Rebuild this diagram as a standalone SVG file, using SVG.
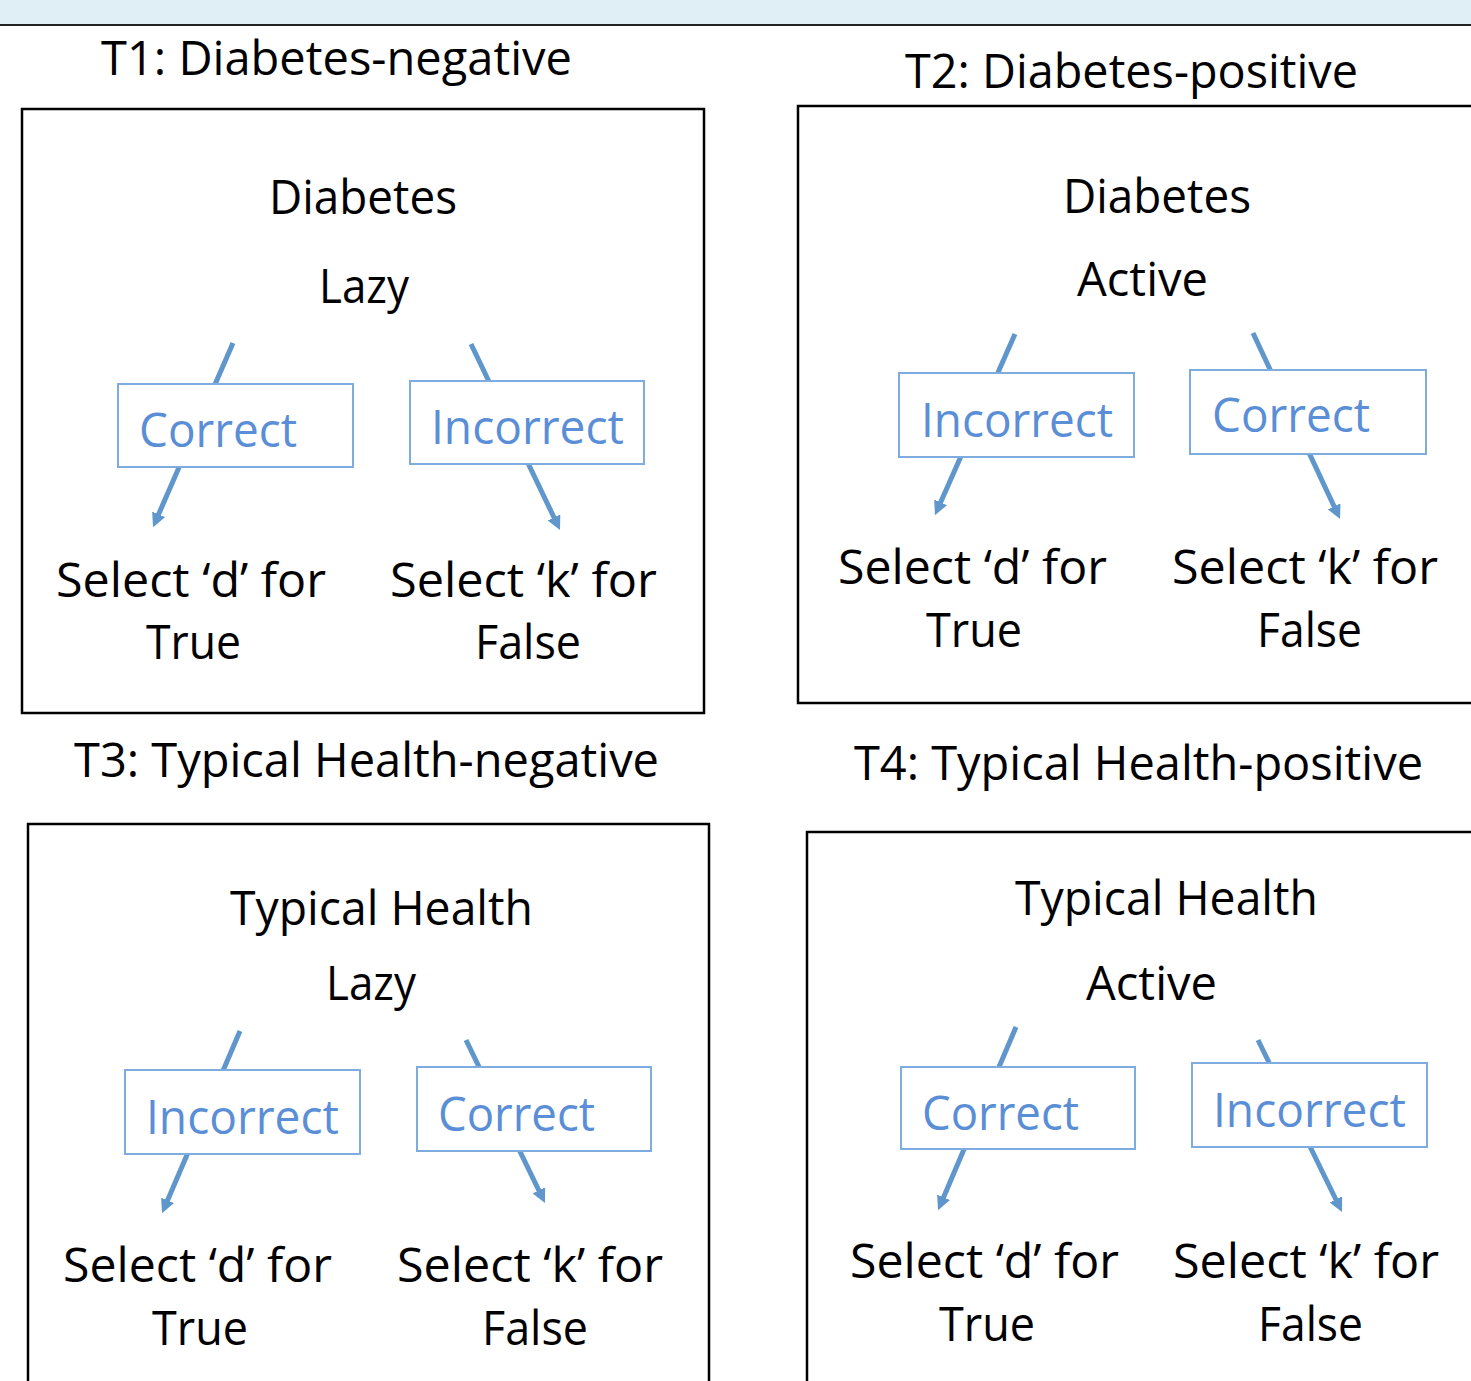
<svg xmlns="http://www.w3.org/2000/svg" width="1471" height="1381" viewBox="0 0 1471 1381">
<style>
  .t { font-family: "Open Sans", "Noto Sans", sans-serif; font-size: 47px; fill: #000; }
  .b { font-family: "Open Sans", "Noto Sans", sans-serif; font-size: 47px; fill: #5A8ED6; }
  .panel { fill: none; stroke: #000; stroke-width: 2.5; }
  .lbl { fill: #fff; stroke: #7EABE0; stroke-width: 2; }
  .arr { stroke: #5F96CB; stroke-width: 5; fill: none; marker-end: url(#ah); }
</style>
<defs>
  <marker id="ah" markerUnits="userSpaceOnUse" markerWidth="16" markerHeight="14" refX="4" refY="7" orient="auto">
    <path d="M0,0 L14,7 L0,14 z" fill="#5F96CB"/>
  </marker>
</defs>
<rect width="1471" height="1381" fill="#fff"/>
<rect x="0" y="0" width="1471" height="24" fill="#E0EFF6"/>
<line x1="0" y1="25" x2="1471" y2="25" stroke="#222" stroke-width="2"/>

<g id="panels">
  <rect class="panel" x="22" y="109" width="682" height="604"/>
  <rect class="panel" x="798" y="106" width="690" height="597"/>
  <rect class="panel" x="28" y="824" width="681" height="600"/>
  <rect class="panel" x="807" y="832" width="690" height="600"/>
</g>

<g id="titles">
  <text class="t" x="101" y="75" textLength="471" lengthAdjust="spacingAndGlyphs">T1: Diabetes-negative</text>
  <text class="t" x="905" y="88" textLength="453" lengthAdjust="spacingAndGlyphs">T2: Diabetes-positive</text>
  <text class="t" x="74" y="777" textLength="585" lengthAdjust="spacingAndGlyphs">T3: Typical Health-negative</text>
  <text class="t" x="854" y="780" textLength="569" lengthAdjust="spacingAndGlyphs">T4: Typical Health-positive</text>
</g>

<g id="connectors">
  <line class="arr" x1="233" y1="343" x2="157" y2="518"/>
  <line class="arr" x1="471" y1="344" x2="555.7" y2="521"/>
  <line class="arr" x1="1015" y1="334" x2="939" y2="506"/>
  <line class="arr" x1="1253" y1="333" x2="1335.8" y2="510"/>
  <line class="arr" x1="240" y1="1031" x2="166" y2="1204"/>
  <line class="arr" x1="466" y1="1040" x2="540.6" y2="1194"/>
  <line class="arr" x1="1016" y1="1027" x2="942" y2="1201"/>
  <line class="arr" x1="1258" y1="1040" x2="1337.6" y2="1203"/>
</g>

<!-- T1 -->
<g id="t1-head">
  <text class="t" x="269" y="214" textLength="188" lengthAdjust="spacingAndGlyphs">Diabetes</text>
  <text class="t" x="319" y="303" textLength="90" lengthAdjust="spacingAndGlyphs">Lazy</text>
</g>
<g id="t1-correct">
  <rect class="lbl" x="118" y="384" width="235" height="83"/>
  <text class="b" x="139" y="447" textLength="158" lengthAdjust="spacingAndGlyphs">Correct</text>
</g>
<g id="t1-incorrect">
  <rect class="lbl" x="410" y="381" width="234" height="83"/>
  <text class="b" x="431" y="444" textLength="193" lengthAdjust="spacingAndGlyphs">Incorrect</text>
</g>
<g id="t1-d">
  <text class="t" x="56" y="597" textLength="270" lengthAdjust="spacingAndGlyphs">Select ‘d’ for</text>
  <text class="t" x="146" y="659" textLength="95" lengthAdjust="spacingAndGlyphs">True</text>
</g>
<g id="t1-k">
  <text class="t" x="390" y="597" textLength="267" lengthAdjust="spacingAndGlyphs">Select ‘k’ for</text>
  <text class="t" x="475" y="659" textLength="106" lengthAdjust="spacingAndGlyphs">False</text>
</g>

<!-- T2 -->
<g id="t2-head">
  <text class="t" x="1063" y="213" textLength="188" lengthAdjust="spacingAndGlyphs">Diabetes</text>
  <text class="t" x="1077" y="296" textLength="131" lengthAdjust="spacingAndGlyphs">Active</text>
</g>
<g id="t2-incorrect">
  <rect class="lbl" x="899" y="373" width="235" height="84"/>
  <text class="b" x="921" y="437" textLength="192" lengthAdjust="spacingAndGlyphs">Incorrect</text>
</g>
<g id="t2-correct">
  <rect class="lbl" x="1190" y="370" width="236" height="84"/>
  <text class="b" x="1212" y="432" textLength="158" lengthAdjust="spacingAndGlyphs">Correct</text>
</g>
<g id="t2-d">
  <text class="t" x="838" y="584" textLength="269" lengthAdjust="spacingAndGlyphs">Select ‘d’ for</text>
  <text class="t" x="926" y="647" textLength="96" lengthAdjust="spacingAndGlyphs">True</text>
</g>
<g id="t2-k">
  <text class="t" x="1172" y="584" textLength="266" lengthAdjust="spacingAndGlyphs">Select ‘k’ for</text>
  <text class="t" x="1257" y="647" textLength="105" lengthAdjust="spacingAndGlyphs">False</text>
</g>

<!-- T3 -->
<g id="t3-head">
  <text class="t" x="230" y="925" textLength="303" lengthAdjust="spacingAndGlyphs">Typical Health</text>
  <text class="t" x="326" y="1000" textLength="90" lengthAdjust="spacingAndGlyphs">Lazy</text>
</g>
<g id="t3-incorrect">
  <rect class="lbl" x="125" y="1070" width="235" height="84"/>
  <text class="b" x="146" y="1134" textLength="193" lengthAdjust="spacingAndGlyphs">Incorrect</text>
</g>
<g id="t3-correct">
  <rect class="lbl" x="417" y="1067" width="234" height="84"/>
  <text class="b" x="438" y="1131" textLength="157" lengthAdjust="spacingAndGlyphs">Correct</text>
</g>
<g id="t3-d">
  <text class="t" x="63" y="1282" textLength="269" lengthAdjust="spacingAndGlyphs">Select ‘d’ for</text>
  <text class="t" x="152" y="1345" textLength="96" lengthAdjust="spacingAndGlyphs">True</text>
</g>
<g id="t3-k">
  <text class="t" x="397" y="1282" textLength="266" lengthAdjust="spacingAndGlyphs">Select ‘k’ for</text>
  <text class="t" x="482" y="1345" textLength="106" lengthAdjust="spacingAndGlyphs">False</text>
</g>

<!-- T4 -->
<g id="t4-head">
  <text class="t" x="1015" y="915" textLength="303" lengthAdjust="spacingAndGlyphs">Typical Health</text>
  <text class="t" x="1086" y="1000" textLength="131" lengthAdjust="spacingAndGlyphs">Active</text>
</g>
<g id="t4-correct">
  <rect class="lbl" x="901" y="1067" width="234" height="82"/>
  <text class="b" x="922" y="1130" textLength="157" lengthAdjust="spacingAndGlyphs">Correct</text>
</g>
<g id="t4-incorrect">
  <rect class="lbl" x="1192" y="1063" width="235" height="84"/>
  <text class="b" x="1213" y="1127" textLength="193" lengthAdjust="spacingAndGlyphs">Incorrect</text>
</g>
<g id="t4-d">
  <text class="t" x="850" y="1278" textLength="269" lengthAdjust="spacingAndGlyphs">Select ‘d’ for</text>
  <text class="t" x="939" y="1341" textLength="96" lengthAdjust="spacingAndGlyphs">True</text>
</g>
<g id="t4-k">
  <text class="t" x="1173" y="1278" textLength="266" lengthAdjust="spacingAndGlyphs">Select ‘k’ for</text>
  <text class="t" x="1258" y="1341" textLength="105" lengthAdjust="spacingAndGlyphs">False</text>
</g>
</svg>
